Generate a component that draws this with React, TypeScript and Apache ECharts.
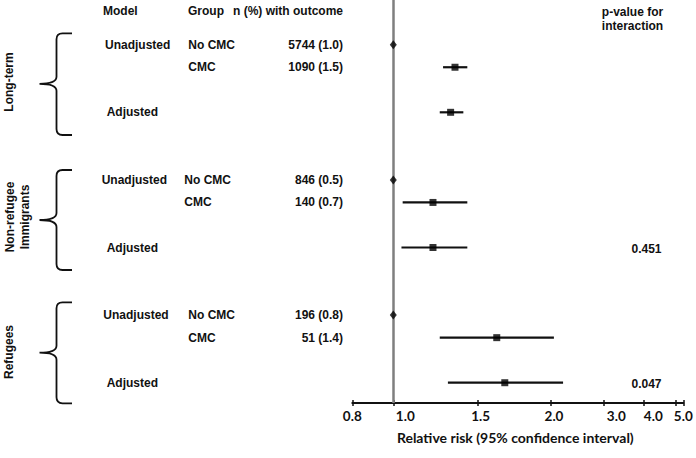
import React, { useEffect, useRef } from "react";
import * as echarts from "echarts";

// ---------- data ----------
const groupNames = ["Long-term", "Non-refugee\nImmigrants", "Refugees"];
const modelUnadj = "Unadjusted";
const modelAdj = "Adjusted";
const groupNoCMC = "No CMC";
const groupCMC = "CMC";
const nNoCMC = ["5744 (1.0)", "846 (0.5)", "196 (0.8)"];
const nCMC = ["1090 (1.5)", "140 (0.7)", "51 (1.4)"];
const rrRef = [1.0, 1.0, 1.0];
const rrCMC = [1.345, 1.21, 1.617];
const loCMC = [1.27, 1.046, 1.25];
const hiCMC = [1.427, 1.427, 2.05];
const rrAdj = [1.317, 1.21, 1.669];
const loAdj = [1.25, 1.04, 1.3];
const hiAdj = [1.4, 1.427, 2.2];
const pInteraction = ["", "0.451", "0.047"];
const tickValues = [0.8, 1.0, 1.5, 2.0, 3.0, 4.0, 5.0];
const tickLabels = ["0.8", "1.0", "1.5", "2.0", "3.0", "4.0", "5.0"];

// ---------- axis scale definition (irregular printed scale) ----------
const axisStops = [0, 41, 125.4, 198.4, 251, 291, 323];
const labelShift = [0, 12, 3, 3.3, 13, 10, 8];
const axisMax = 331;
const rowNoCMC = 0;
const rowCMC = 1;
const rowAdj = 3;
const groupStride = 6;
const yMin = -1.984;
const yMax = 15.9;

const GRID_TOP = 0;
const GRID_H = 403;
const GRID_LEFT = 352.3;

function toAxis(v: number): number {
  const n = tickValues.length;
  for (let i = 0; i < n - 1; i++) {
    const a = tickValues[i];
    const b = tickValues[i + 1];
    if (v <= b || i === n - 2) {
      const f = (Math.log(v) - Math.log(a)) / (Math.log(b) - Math.log(a));
      return axisStops[i] + f * (axisStops[i + 1] - axisStops[i]);
    }
  }
  return 0;
}

function rowPx(r: number): number {
  return GRID_TOP + ((r - yMin) / (yMax - yMin)) * GRID_H;
}

// ---------- braces ----------
const braceDefs = [
  { t: 33.3, m: 83.8, b: 135 },
  { t: 170, m: 220, b: 270 },
  { t: 302.3, m: 352.7, b: 403.3 },
];
function bracePath(t: number, m: number, b: number): string {
  const x0 = 56.5, xr = 72, xl = 39.5, r = 6;
  return `M${xr} ${t} L${x0 + r} ${t} Q${x0} ${t} ${x0} ${t + r} L${x0} ${m - 7} Q${x0} ${m} ${xl} ${m} Q${x0} ${m} ${x0} ${m + 7} L${x0} ${b - r} Q${x0} ${b} ${x0 + r} ${b} L${xr} ${b}`;
}
braceDefs.forEach((d, i) => {
  echarts.graphic.registerShape(
    "brace" + i,
    echarts.graphic.extendPath(bracePath(d.t, d.m, d.b), {})
  );
});

const FONT = '"Liberation Sans", Arial, sans-serif';

function txt(text: string, x: number, y: number, align = "left", extra: any = {}) {
  return {
    type: "text",
    x,
    y,
    silent: true,
    style: {
      text,
      fill: "#111",
      font: `bold 12px ${FONT}`,
      align,
      verticalAlign: "middle",
      textAlign: align,
      textVerticalAlign: "middle",
      ...extra,
    },
  };
}

export default function App() {
  const ref = useRef<HTMLDivElement>(null);

  useEffect(() => {
    if (!ref.current) return;
    const chart = echarts.init(ref.current, undefined, { renderer: "svg" });

    const ciData: number[][] = [];
    const sqData: number[][] = [];
    const refData: number[][] = [];
    for (let g = 0; g < 3; g++) {
      const base = g * groupStride;
      refData.push([toAxis(rrRef[g]), base + rowNoCMC]);
      sqData.push([toAxis(rrCMC[g]), base + rowCMC]);
      sqData.push([toAxis(rrAdj[g]), base + rowAdj]);
      ciData.push([toAxis(loCMC[g]), toAxis(hiCMC[g]), base + rowCMC]);
      ciData.push([toAxis(loAdj[g]), toAxis(hiAdj[g]), base + rowAdj]);
    }

    const graphics: any[] = [];
    graphics.push(txt("Model", 103, 11));
    graphics.push(txt("Group", 188, 11));
    graphics.push(txt("n (%) with outcome", 343, 11, "right"));
    graphics.push(txt("p-value for", 632.5, 12, "center"));
    graphics.push(txt("interaction", 632.5, 25.5, "center"));

    const unadjX = [105, 101.7, 103.3];
    const grpX = [188.3, 184.3, 188.3];
    const labelCenters = [
      { x: 9, y: 82 },
      { x: 17, y: 217 },
      { x: 9, y: 352 },
    ];
    for (let g = 0; g < 3; g++) {
      const base = g * groupStride;
      graphics.push(txt(modelUnadj, unadjX[g], rowPx(base + rowNoCMC)));
      graphics.push(txt(groupNoCMC, grpX[g], rowPx(base + rowNoCMC)));
      graphics.push(txt(nNoCMC[g], 343, rowPx(base + rowNoCMC), "right"));
      graphics.push(txt(groupCMC, grpX[g], rowPx(base + rowCMC)));
      graphics.push(txt(nCMC[g], 343, rowPx(base + rowCMC), "right"));
      graphics.push(txt(modelAdj, 106.7, rowPx(base + rowAdj)));
      if (pInteraction[g]) {
        graphics.push(txt(pInteraction[g], 646.5, rowPx(base + rowAdj) + 1, "center"));
      }
      graphics.push({
        type: "text",
        x: labelCenters[g].x,
        y: labelCenters[g].y,
        rotation: Math.PI / 2,
        silent: true,
        style: {
          text: groupNames[g],
          fill: "#111",
          font: `bold 12px ${FONT}`,
          align: "center",
          verticalAlign: "middle",
          textAlign: "center",
          textVerticalAlign: "middle",
          lineHeight: 15,
        },
      });
      graphics.push({
        type: "brace" + g,
        x: 0,
        y: 0,
        silent: true,
        style: { stroke: "#111", lineWidth: 1.8, fill: "none" },
      });
    }

    const tickUnits = [...axisStops, axisMax];
    const labelUnits = axisStops.map((s, i) => s + labelShift[i]);

    chart.setOption({
      animation: false,
      backgroundColor: "#fff",
      grid: { left: GRID_LEFT, top: GRID_TOP, width: axisMax, height: GRID_H },
      xAxis: [
        {
          type: "value",
          min: 0,
          max: axisMax,
          position: "bottom",
          splitLine: { show: false },
          axisLine: { show: true, onZero: false, lineStyle: { color: "#111", width: 2 } },
          axisTick: {
            show: true,
            customValues: tickUnits,
            length: 3,
            lineStyle: { color: "#111", width: 1.5 },
          },
          axisLabel: {
            customValues: labelUnits,
            margin: 6,
            color: "#111",
            fontWeight: "bold",
            fontSize: 13.5,
            fontFamily: "Lato, sans-serif",
            formatter: (v: number) => {
              let best = 0;
              for (let i = 0; i < labelUnits.length; i++) {
                if (Math.abs(labelUnits[i] - v) < Math.abs(labelUnits[best] - v)) best = i;
              }
              return tickLabels[best];
            },
          },
          name: "Relative risk (95% confidence interval)",
          nameLocation: "middle",
          nameGap: 27,
          nameTextStyle: {
            color: "#111",
            fontWeight: "bold",
            fontSize: 14,
            fontFamily: "Lato, sans-serif",
            padding: [0, 5, 0, 0],
          },
        },
        {
          type: "value",
          min: 0,
          max: axisMax,
          position: "bottom",
          splitLine: { show: false },
          axisLine: { show: false, onZero: false },
          axisLabel: { show: false },
          axisTick: {
            show: true,
            inside: true,
            customValues: tickUnits,
            length: 3,
            lineStyle: { color: "#111", width: 1.5 },
          },
        },
      ],
      yAxis: {
        type: "value",
        min: yMin,
        max: yMax,
        inverse: true,
        show: false,
      },
      series: [
        {
          type: "custom",
          z: 2,
          data: ciData,
          encode: { x: [0, 1], y: 2 },
          renderItem: (params: any, api: any) => {
            const p1 = api.coord([api.value(0), api.value(2)]);
            const p2 = api.coord([api.value(1), api.value(2)]);
            return {
              type: "line",
              shape: { x1: p1[0], y1: p1[1], x2: p2[0], y2: p2[1] },
              style: { stroke: "#111", lineWidth: 2.2 },
            };
          },
          markLine: {
            silent: true,
            symbol: ["none", "none"],
            label: { show: false },
            lineStyle: { color: "#7f7f7f", width: 2.5, type: "solid" },
            data: [{ xAxis: toAxis(1.0) }],
            z: 1,
          },
        },
        {
          type: "scatter",
          z: 4,
          symbol: "rect",
          symbolSize: 7,
          itemStyle: { color: "#000" },
          data: sqData,
        },
        {
          type: "scatter",
          z: 4,
          symbol: "diamond",
          symbolSize: [7, 9],
          itemStyle: { color: "#000" },
          data: refData,
        },
      ],
      graphic: graphics,
    });

    return () => chart.dispose();
  }, []);

  return (
    <div
      ref={ref}
      style={{ position: "fixed", left: 0, top: 0, width: 696, height: 458 }}
    />
  );
}
